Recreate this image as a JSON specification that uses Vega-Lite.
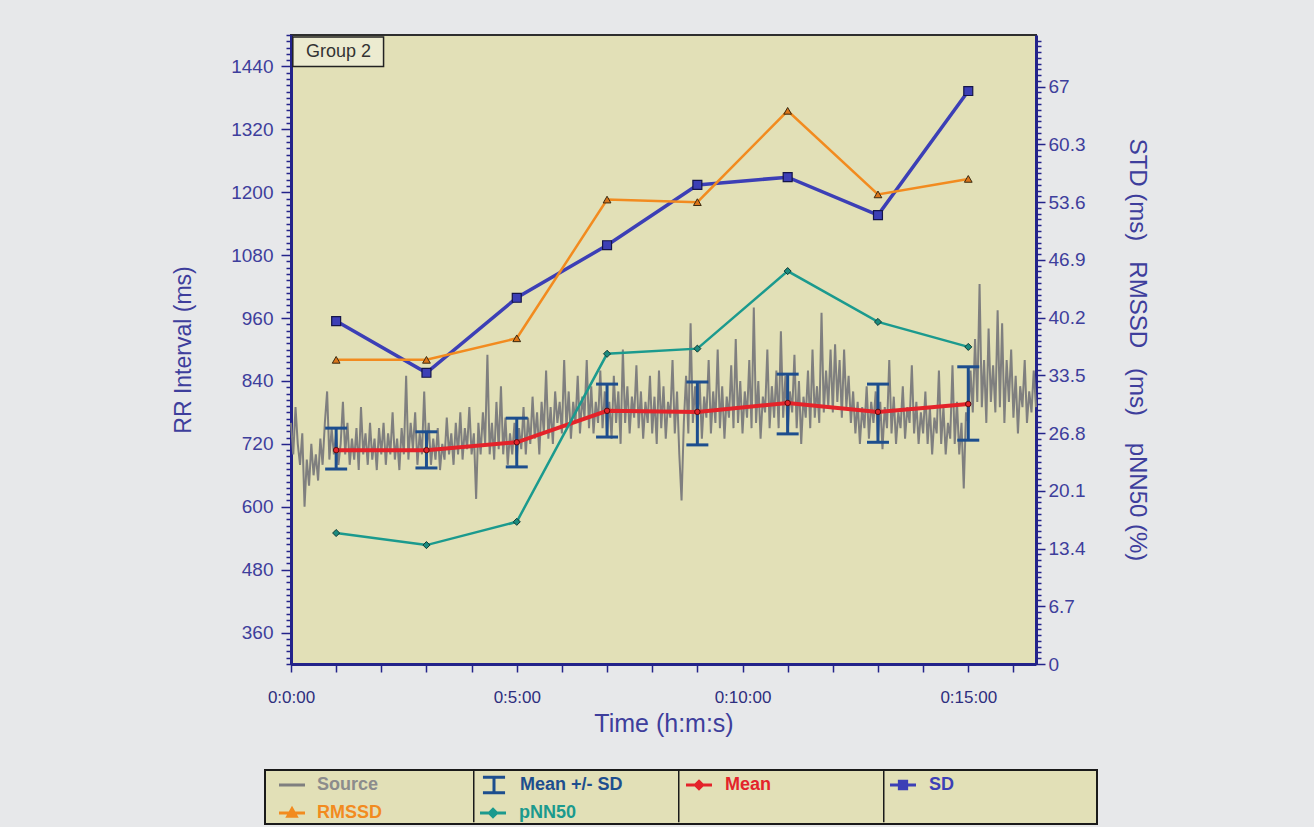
{
  "$schema": "https://vega.github.io/schema/vega-lite/v6.json",
  "width": 745,
  "height": 629,
  "autosize": {"type": "none"},
  "padding": {"left": 291, "top": 35, "right": 278, "bottom": 163},
  "background": "#e7e8ea",
  "config": {
    "view": {"fill": "#e2e0b7", "stroke": "#2e2e2e", "strokeWidth": 2},
    "font": "Liberation Sans",
    "tick": {"opacity": 1},
    "axis": {"grid": false, "labelFont": "Liberation Sans", "titleFont": "Liberation Sans", "titleFontWeight": "normal", "labelColor": "#3e3e9c", "titleColor": "#3e3e9c", "domainColor": "#23238a", "domainWidth": 3, "tickColor": "#23238a", "tickWidth": 1.5, "labelOverlap": false, "labelFlush": false}
  },
  "datasets": {
    "rr": [
      {"t":0,"rr":760},{"t":0.05,"rr":700},{"t":0.1,"rr":790},{"t":0.15,"rr":720},{"t":0.2,"rr":680},{"t":0.25,"rr":740},{"t":0.3,"rr":600},{"t":0.35,"rr":690},{"t":0.4,"rr":640},{"t":0.45,"rr":720},{"t":0.5,"rr":660},{"t":0.55,"rr":700},{"t":0.6,"rr":650},{"t":0.65,"rr":730},{"t":0.7,"rr":680},{"t":0.75,"rr":760},{"t":0.8,"rr":820},{"t":0.85,"rr":690},{"t":0.9,"rr":750},{"t":0.95,"rr":700},
      {"t":1,"rr":740},{"t":1.05,"rr":680},{"t":1.1,"rr":720},{"t":1.15,"rr":800},{"t":1.2,"rr":700},{"t":1.25,"rr":760},{"t":1.3,"rr":680},{"t":1.35,"rr":730},{"t":1.4,"rr":690},{"t":1.45,"rr":750},{"t":1.5,"rr":670},{"t":1.55,"rr":790},{"t":1.6,"rr":700},{"t":1.65,"rr":740},{"t":1.7,"rr":680},{"t":1.75,"rr":760},{"t":1.8,"rr":690},{"t":1.85,"rr":730},{"t":1.9,"rr":670},{"t":1.95,"rr":750},
      {"t":2,"rr":700},{"t":2.05,"rr":760},{"t":2.1,"rr":680},{"t":2.15,"rr":740},{"t":2.2,"rr":700},{"t":2.25,"rr":780},{"t":2.3,"rr":690},{"t":2.35,"rr":730},{"t":2.4,"rr":670},{"t":2.45,"rr":750},{"t":2.5,"rr":700},{"t":2.55,"rr":850},{"t":2.6,"rr":690},{"t":2.65,"rr":760},{"t":2.7,"rr":710},{"t":2.75,"rr":780},{"t":2.8,"rr":680},{"t":2.85,"rr":740},{"t":2.9,"rr":700},{"t":2.95,"rr":820},
      {"t":3,"rr":700},{"t":3.05,"rr":760},{"t":3.1,"rr":680},{"t":3.15,"rr":730},{"t":3.2,"rr":690},{"t":3.25,"rr":750},{"t":3.3,"rr":670},{"t":3.35,"rr":720},{"t":3.4,"rr":690},{"t":3.45,"rr":770},{"t":3.5,"rr":700},{"t":3.55,"rr":740},{"t":3.6,"rr":680},{"t":3.65,"rr":760},{"t":3.7,"rr":700},{"t":3.75,"rr":780},{"t":3.8,"rr":690},{"t":3.85,"rr":750},{"t":3.9,"rr":710},{"t":3.95,"rr":790},
      {"t":4,"rr":700},{"t":4.05,"rr":740},{"t":4.1,"rr":615},{"t":4.15,"rr":760},{"t":4.2,"rr":700},{"t":4.25,"rr":780},{"t":4.3,"rr":720},{"t":4.35,"rr":890},{"t":4.4,"rr":700},{"t":4.45,"rr":760},{"t":4.5,"rr":690},{"t":4.55,"rr":800},{"t":4.6,"rr":710},{"t":4.65,"rr":830},{"t":4.7,"rr":700},{"t":4.75,"rr":770},{"t":4.8,"rr":680},{"t":4.85,"rr":740},{"t":4.9,"rr":700},{"t":4.95,"rr":760},
      {"t":5,"rr":690},{"t":5.05,"rr":750},{"t":5.1,"rr":710},{"t":5.15,"rr":790},{"t":5.2,"rr":700},{"t":5.25,"rr":770},{"t":5.3,"rr":720},{"t":5.35,"rr":810},{"t":5.4,"rr":730},{"t":5.45,"rr":780},{"t":5.5,"rr":700},{"t":5.55,"rr":800},{"t":5.6,"rr":740},{"t":5.65,"rr":860},{"t":5.7,"rr":730},{"t":5.75,"rr":790},{"t":5.8,"rr":720},{"t":5.85,"rr":820},{"t":5.9,"rr":760},{"t":5.95,"rr":800},
      {"t":6,"rr":740},{"t":6.05,"rr":880},{"t":6.1,"rr":750},{"t":6.15,"rr":820},{"t":6.2,"rr":730},{"t":6.25,"rr":800},{"t":6.3,"rr":760},{"t":6.35,"rr":850},{"t":6.4,"rr":740},{"t":6.45,"rr":810},{"t":6.5,"rr":770},{"t":6.55,"rr":880},{"t":6.6,"rr":750},{"t":6.65,"rr":830},{"t":6.7,"rr":740},{"t":6.75,"rr":800},{"t":6.8,"rr":760},{"t":6.85,"rr":860},{"t":6.9,"rr":750},{"t":6.95,"rr":820},
      {"t":7,"rr":740},{"t":7.05,"rr":800},{"t":7.1,"rr":730},{"t":7.15,"rr":850},{"t":7.2,"rr":760},{"t":7.25,"rr":820},{"t":7.3,"rr":720},{"t":7.35,"rr":900},{"t":7.4,"rr":760},{"t":7.45,"rr":830},{"t":7.5,"rr":740},{"t":7.55,"rr":810},{"t":7.6,"rr":770},{"t":7.65,"rr":870},{"t":7.7,"rr":750},{"t":7.75,"rr":820},{"t":7.8,"rr":730},{"t":7.85,"rr":800},{"t":7.9,"rr":760},{"t":7.95,"rr":850},
      {"t":8,"rr":740},{"t":8.05,"rr":810},{"t":8.1,"rr":720},{"t":8.15,"rr":860},{"t":8.2,"rr":750},{"t":8.25,"rr":830},{"t":8.3,"rr":730},{"t":8.35,"rr":800},{"t":8.4,"rr":770},{"t":8.45,"rr":880},{"t":8.5,"rr":740},{"t":8.55,"rr":820},{"t":8.6,"rr":700},{"t":8.65,"rr":612},{"t":8.7,"rr":760},{"t":8.75,"rr":850},{"t":8.8,"rr":740},{"t":8.85,"rr":950},{"t":8.9,"rr":760},{"t":8.95,"rr":830},
      {"t":9,"rr":750},{"t":9.05,"rr":840},{"t":9.1,"rr":730},{"t":9.15,"rr":810},{"t":9.2,"rr":770},{"t":9.25,"rr":880},{"t":9.3,"rr":740},{"t":9.35,"rr":820},{"t":9.4,"rr":760},{"t":9.45,"rr":900},{"t":9.5,"rr":750},{"t":9.55,"rr":830},{"t":9.6,"rr":730},{"t":9.65,"rr":810},{"t":9.7,"rr":770},{"t":9.75,"rr":870},{"t":9.8,"rr":750},{"t":9.85,"rr":920},{"t":9.9,"rr":760},{"t":9.95,"rr":840},
      {"t":10,"rr":740},{"t":10.05,"rr":820},{"t":10.1,"rr":770},{"t":10.15,"rr":880},{"t":10.2,"rr":750},{"t":10.25,"rr":980},{"t":10.3,"rr":760},{"t":10.35,"rr":840},{"t":10.4,"rr":730},{"t":10.45,"rr":810},{"t":10.5,"rr":780},{"t":10.55,"rr":900},{"t":10.6,"rr":750},{"t":10.65,"rr":830},{"t":10.7,"rr":770},{"t":10.75,"rr":860},{"t":10.8,"rr":750},{"t":10.85,"rr":935},{"t":10.9,"rr":770},{"t":10.95,"rr":850},
      {"t":11,"rr":740},{"t":11.05,"rr":820},{"t":11.1,"rr":780},{"t":11.15,"rr":890},{"t":11.2,"rr":750},{"t":11.25,"rr":840},{"t":11.3,"rr":720},{"t":11.35,"rr":810},{"t":11.4,"rr":770},{"t":11.45,"rr":860},{"t":11.5,"rr":750},{"t":11.55,"rr":900},{"t":11.6,"rr":770},{"t":11.65,"rr":830},{"t":11.7,"rr":760},{"t":11.75,"rr":970},{"t":11.8,"rr":780},{"t":11.85,"rr":860},{"t":11.9,"rr":790},{"t":11.95,"rr":900},
      {"t":12,"rr":780},{"t":12.05,"rr":910},{"t":12.1,"rr":800},{"t":12.15,"rr":880},{"t":12.2,"rr":770},{"t":12.25,"rr":900},{"t":12.3,"rr":790},{"t":12.35,"rr":850},{"t":12.4,"rr":760},{"t":12.45,"rr":820},{"t":12.5,"rr":740},{"t":12.55,"rr":800},{"t":12.6,"rr":720},{"t":12.65,"rr":790},{"t":12.7,"rr":750},{"t":12.75,"rr":830},{"t":12.8,"rr":730},{"t":12.85,"rr":800},{"t":12.9,"rr":760},{"t":12.95,"rr":820},
      {"t":13,"rr":730},{"t":13.05,"rr":800},{"t":13.1,"rr":710},{"t":13.15,"rr":790},{"t":13.2,"rr":750},{"t":13.25,"rr":880},{"t":13.3,"rr":740},{"t":13.35,"rr":810},{"t":13.4,"rr":720},{"t":13.45,"rr":780},{"t":13.5,"rr":750},{"t":13.55,"rr":830},{"t":13.6,"rr":730},{"t":13.65,"rr":790},{"t":13.7,"rr":760},{"t":13.75,"rr":870},{"t":13.8,"rr":740},{"t":13.85,"rr":800},{"t":13.9,"rr":720},{"t":13.95,"rr":780},
      {"t":14,"rr":740},{"t":14.05,"rr":820},{"t":14.1,"rr":720},{"t":14.15,"rr":790},{"t":14.2,"rr":700},{"t":14.25,"rr":770},{"t":14.3,"rr":740},{"t":14.35,"rr":860},{"t":14.4,"rr":720},{"t":14.45,"rr":790},{"t":14.5,"rr":700},{"t":14.55,"rr":760},{"t":14.6,"rr":730},{"t":14.65,"rr":870},{"t":14.7,"rr":720},{"t":14.75,"rr":800},{"t":14.8,"rr":700},{"t":14.85,"rr":760},{"t":14.9,"rr":635},{"t":14.95,"rr":780},
      {"t":15,"rr":760},{"t":15.05,"rr":860},{"t":15.1,"rr":780},{"t":15.15,"rr":920},{"t":15.2,"rr":800},{"t":15.25,"rr":1025},{"t":15.3,"rr":790},{"t":15.35,"rr":880},{"t":15.4,"rr":760},{"t":15.45,"rr":940},{"t":15.5,"rr":800},{"t":15.55,"rr":870},{"t":15.6,"rr":780},{"t":15.65,"rr":975},{"t":15.7,"rr":790},{"t":15.75,"rr":950},{"t":15.8,"rr":760},{"t":15.85,"rr":880},{"t":15.9,"rr":800},{"t":15.95,"rr":900},
      {"t":16,"rr":770},{"t":16.05,"rr":850},{"t":16.1,"rr":740},{"t":16.15,"rr":830},{"t":16.2,"rr":790},{"t":16.25,"rr":880},{"t":16.3,"rr":760},{"t":16.35,"rr":820},{"t":16.4,"rr":780},{"t":16.45,"rr":860},{"t":16.5,"rr":790}
    ],
    "stats": [
      {"t":1,"mean":708,"lo":672,"hi":750,"sd":39.8,"rmssd":35.3,"pnn50":15.2},
      {"t":3,"mean":708,"lo":674,"hi":743,"sd":33.8,"rmssd":35.3,"pnn50":13.8},
      {"t":5,"mean":723,"lo":676,"hi":769,"sd":42.5,"rmssd":37.8,"pnn50":16.5},
      {"t":7,"mean":783,"lo":733,"hi":834,"sd":48.6,"rmssd":53.9,"pnn50":36.0},
      {"t":9,"mean":781,"lo":718,"hi":838,"sd":55.6,"rmssd":53.6,"pnn50":36.6},
      {"t":11,"mean":798,"lo":739,"hi":853,"sd":56.5,"rmssd":64.2,"pnn50":45.6},
      {"t":13,"mean":781,"lo":723,"hi":834,"sd":52.1,"rmssd":54.5,"pnn50":39.7},
      {"t":15,"mean":796,"lo":727,"hi":867,"sd":66.5,"rmssd":56.3,"pnn50":36.8}
    ]
  },
  "layer": [
    {
      "layer": [
        {
          "data": {"name": "rr"},
          "mark": {"type": "line", "strokeWidth": 2, "color": "#727272"},
          "encoding": {
            "x": {
              "field": "t", "type": "quantitative",
              "scale": {"domain": [0, 16.5], "nice": false, "zero": false},
              "axis": {
                "title": "Time (h:m:s)",
                "values": [0,1,2,3,4,5,6,7,8,9,10,11,12,13,14,15,16],
                "tickCount": 100,
                "labelExpr": "datum.value % 5 === 0 ? '0:' + datum.value + ':00' : ''",
                "tickSize": 8, "labelFontSize": 17, "labelPadding": 17, "labelColor": "#2e2e7e",
                "titleFontSize": 25, "titlePadding": 6
              }
            },
            "y": {
              "field": "rr", "type": "quantitative",
              "scale": {"domain": [300, 1500], "nice": false, "zero": false},
              "axis": {
                "title": "RR Interval (ms)", "orient": "left",
                "values": [300,312,324,336,348,360,372,384,396,408,420,432,444,456,468,480,492,504,516,528,540,552,564,576,588,600,612,624,636,648,660,672,684,696,708,720,732,744,756,768,780,792,804,816,828,840,852,864,876,888,900,912,924,936,948,960,972,984,996,1008,1020,1032,1044,1056,1068,1080,1092,1104,1116,1128,1140,1152,1164,1176,1188,1200,1212,1224,1236,1248,1260,1272,1284,1296,1308,1320,1332,1344,1356,1368,1380,1392,1404,1416,1428,1440,1452,1464,1476,1488,1500],
                "tickCount": 500,
                "labelExpr": "datum.value % 120 === 0 ? '' + datum.value : ''",
                "tickSize": {"condition": {"test": "datum.value % 120 === 0", "value": 10}, "value": 5},
                "labelFontSize": 19, "labelPadding": 8,
                "titleFontSize": 23, "titlePadding": 35
              }
            },
            "color": {
              "datum": "Source", "type": "nominal",
              "scale": {"domain": ["Source", "Mean +/- SD", "Mean", "SD", "RMSSD", "pNN50"], "range": ["#7f7f7f", "#1d4e8e", "#e4232a", "#3c3fb6", "#f28b1f", "#1b9a8e"]},
              "legend": {
                "orient": "none", "legendX": -26, "legendY": 735,
                "direction": "horizontal", "columns": 4, "title": null,
                "padding": 0, "fillColor": "#e2e0b7", "strokeColor": "#1a1a1a",
                "gridAlign": "none", "columnPadding": 0, "rowPadding": -26,
                "symbolSize": 676, "symbolStrokeWidth": 3,
                "labelFont": "Liberation Sans", "labelFontWeight": "bold", "labelFontSize": 18,
                "encode": {
                  "legend": {"update": {"strokeWidth": {"value": 2}}},
                  "entries": {"update": {
                    "noBound": {"value": false},
                    "width": {"signal": "datum.index % 4 === 0 ? 208 : datum.index % 4 === 3 ? 213 : 203"},
                    "height": {"signal": "datum.index < 4 ? 53 : 26"},
                    "stroke": {"signal": "datum.index < 3 ? '#1a1a1a' : null"},
                    "strokeWidth": {"value": 1.5},
                    "strokeDash": {"signal": "datum.index === 0 ? [0, 208, 53, 800] : [0, 203, 53, 800]"}
                  }},
                  "symbols": {"update": {
                    "x": {"signal": "datum.index % 4 === 0 ? 27 : 19"},
                    "y": {"value": 15},
                    "shape": {"signal": "datum.label === 'Source' ? 'M-1,0H1' : datum.label === 'Mean +/- SD' ? 'M-0.85,-0.6H0.85M0,-0.6V0.6M-0.85,0.6H0.85' : datum.label === 'SD' ? 'M-1,0H1M-0.28,-0.28H0.28V0.28H-0.28Z' : datum.label === 'RMSSD' ? 'M-1,0H1M0,-0.32L0.32,0.25H-0.32Z' : 'M-1,0H1M0,-0.28L0.28,0L0,0.28L-0.28,0Z'"},
                    "fill": {"signal": "datum.label === 'Mean' ? '#8a1414' : datum.label === 'SD' ? '#3c3fb6' : datum.label === 'RMSSD' ? '#6a3a10' : datum.label === 'pNN50' ? '#0f5a52' : 'transparent'"}
                  }},
                  "labels": {"update": {
                    "x": {"signal": "datum.index % 4 === 0 ? 52 : 45"},
                    "y": {"value": 15},
                    "fill": {"signal": "datum.label === 'Source' ? '#8c8c8c' : datum.label === 'Mean +/- SD' ? '#1d4e8e' : datum.label === 'Mean' ? '#e4232a' : datum.label === 'SD' ? '#3c3fb6' : datum.label === 'RMSSD' ? '#f28b1f' : '#1b9a8e'"}
                  }}
                }
              }
            }
          }
        },
        {
          "data": {"name": "stats"},
          "mark": {"type": "rule", "strokeWidth": 3},
          "encoding": {
            "x": {"field": "t", "type": "quantitative"},
            "y": {"field": "lo", "type": "quantitative"},
            "y2": {"field": "hi"},
            "color": {"datum": "Mean +/- SD", "type": "nominal"}
          }
        },
        {
          "data": {"name": "stats"},
          "mark": {"type": "tick", "orient": "horizontal", "size": 22, "thickness": 3, "opacity": 1},
          "encoding": {
            "x": {"field": "t", "type": "quantitative"},
            "y": {"field": "lo", "type": "quantitative"},
            "color": {"datum": "Mean +/- SD", "type": "nominal"}
          }
        },
        {
          "data": {"name": "stats"},
          "mark": {"type": "tick", "orient": "horizontal", "size": 22, "thickness": 3, "opacity": 1},
          "encoding": {
            "x": {"field": "t", "type": "quantitative"},
            "y": {"field": "hi", "type": "quantitative"},
            "color": {"datum": "Mean +/- SD", "type": "nominal"}
          }
        },
        {
          "data": {"name": "stats"},
          "mark": {"type": "line", "strokeWidth": 4},
          "encoding": {
            "x": {"field": "t", "type": "quantitative"},
            "y": {"field": "mean", "type": "quantitative"},
            "color": {"datum": "Mean", "type": "nominal"}
          }
        },
        {
          "data": {"name": "stats"},
          "mark": {"type": "point", "shape": "circle", "filled": true, "size": 30, "color": "#e4232a", "stroke": "#5a1010", "strokeWidth": 1, "opacity": 1},
          "encoding": {
            "x": {"field": "t", "type": "quantitative"},
            "y": {"field": "mean", "type": "quantitative"}
          }
        },
        {
          "data": {"values": [{"label": "Group 2"}]},
          "mark": {"type": "rect", "fill": "#ecebd0", "stroke": "#222222", "strokeWidth": 1.5},
          "encoding": {
            "x": {"datum": 0.04, "type": "quantitative"},
            "x2": {"datum": 2.05},
            "y": {"datum": 1496, "type": "quantitative"},
            "y2": {"datum": 1440}
          }
        },
        {
          "data": {"values": [{"label": "Group 2"}]},
          "mark": {"type": "text", "fontSize": 18, "color": "#333333", "align": "center", "baseline": "middle", "font": "Liberation Sans"},
          "encoding": {
            "x": {"datum": 1.05, "type": "quantitative"},
            "y": {"datum": 1468, "type": "quantitative"},
            "text": {"field": "label"}
          }
        }
      ]
    },
    {
      "data": {"name": "stats"},
      "encoding": {"x": {"field": "t", "type": "quantitative"}},
      "layer": [
        {
          "mark": {"type": "line", "strokeWidth": 3.5},
          "encoding": {
            "y": {
              "field": "sd", "type": "quantitative",
              "scale": {"domain": [0, 73], "nice": false},
              "axis": {
                "title": "STD (ms)\u00a0\u00a0\u00a0RMSSD\u00a0\u00a0\u00a0(ms)\u00a0\u00a0\u00a0\u00a0pNN50 (%)", "orient": "right",
                "values": [0,0.67,1.34,2.01,2.68,3.35,4.02,4.69,5.36,6.03,6.7,7.37,8.04,8.71,9.38,10.05,10.72,11.39,12.06,12.73,13.4,14.07,14.74,15.41,16.08,16.75,17.42,18.09,18.76,19.43,20.1,20.77,21.44,22.11,22.78,23.45,24.12,24.79,25.46,26.13,26.8,27.47,28.14,28.81,29.48,30.15,30.82,31.49,32.16,32.83,33.5,34.17,34.84,35.51,36.18,36.85,37.52,38.19,38.86,39.53,40.2,40.87,41.54,42.21,42.88,43.55,44.22,44.89,45.56,46.23,46.9,47.57,48.24,48.91,49.58,50.25,50.92,51.59,52.26,52.93,53.6,54.27,54.94,55.61,56.28,56.95,57.62,58.29,58.96,59.63,60.3,60.97,61.64,62.31,62.98,63.65,64.32,64.99,65.66,66.33,67,67.67,68.34,69.01,69.68,70.35,71.02,71.69,72.36],
                "tickCount": 500,
                "labelExpr": "round(datum.value * 100) % 670 === 0 ? '' + datum.value : ''",
                "tickSize": {"condition": {"test": "round(datum.value * 100) % 670 === 0", "value": 9}, "value": 5},
                "labelFontSize": 19, "labelPadding": 3,
                "titleFontSize": 24, "titlePadding": 40
              }
            },
            "color": {"datum": "SD", "type": "nominal"}
          }
        },
        {
          "mark": {"type": "point", "shape": "square", "filled": true, "size": 80, "color": "#3c3fb6", "stroke": "#15154a", "strokeWidth": 1.2, "opacity": 1},
          "encoding": {"y": {"field": "sd", "type": "quantitative"}}
        },
        {
          "mark": {"type": "line", "strokeWidth": 2.5},
          "encoding": {
            "y": {"field": "rmssd", "type": "quantitative"},
            "color": {"datum": "RMSSD", "type": "nominal"}
          }
        },
        {
          "mark": {"type": "point", "shape": "triangle-up", "filled": true, "size": 60, "color": "#d9741a", "stroke": "#3a2a10", "strokeWidth": 1, "opacity": 1},
          "encoding": {"y": {"field": "rmssd", "type": "quantitative"}}
        },
        {
          "mark": {"type": "line", "strokeWidth": 2.5},
          "encoding": {
            "y": {"field": "pnn50", "type": "quantitative"},
            "color": {"datum": "pNN50", "type": "nominal"}
          }
        },
        {
          "mark": {"type": "point", "shape": "diamond", "filled": true, "size": 50, "color": "#1b8a7e", "stroke": "#0f3a34", "strokeWidth": 1, "opacity": 1},
          "encoding": {"y": {"field": "pnn50", "type": "quantitative"}}
        }
      ]
    }
  ],
  "resolve": {"scale": {"y": "independent"}}
}
